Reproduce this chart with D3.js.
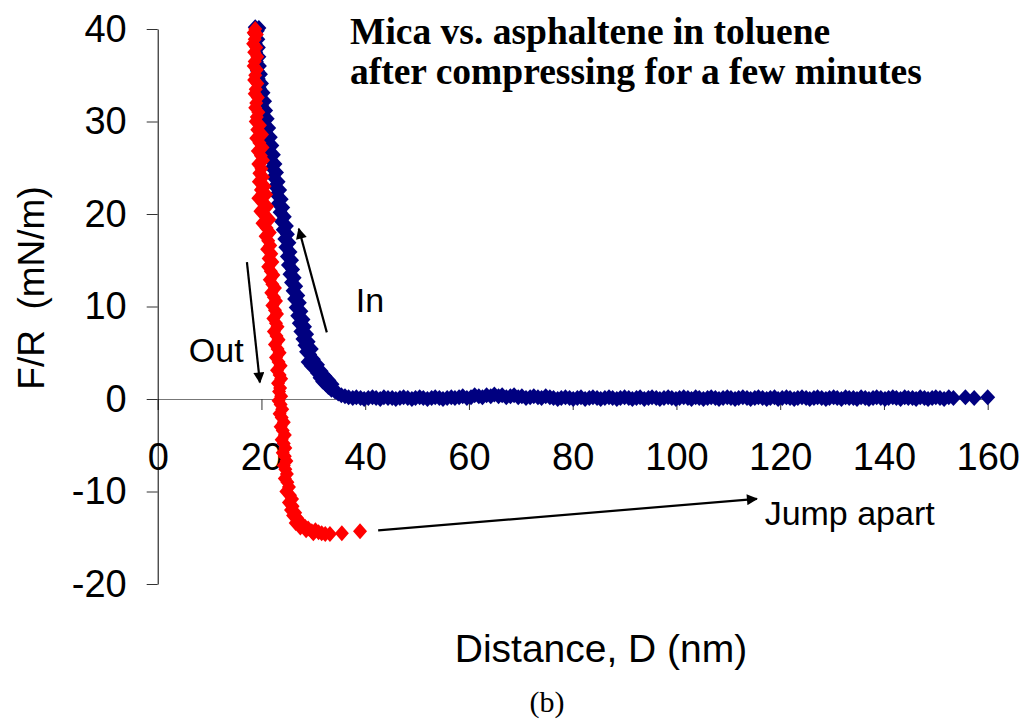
<!DOCTYPE html>
<html>
<head>
<meta charset="utf-8">
<script src="https://cdn.jsdelivr.net/npm/d3@7"></script>
<style>
  body { margin: 0; background: #fff; }
  svg { display: block; }
</style>
</head>
<body>
<div id="chart"></div>
<script>
// DATA, pairs of [distance D (nm), force F/R (mN/m)]
// approach ("In") run, blue - flat far part
let inFlat = [
  [160.0, 0.2], [157.4, 0.1], [155.7, 0.2], [153.4, 0.1], [152.5, 0.2], [151.6, 0.0], [150.8, 0.1], [150.0, 0.2], [149.3, 0.1], [148.5, 0.0],
  [147.8, 0.1], [147.0, 0.2], [146.2, 0.0], [145.5, 0.1], [144.7, 0.1], [144.0, 0.2], [143.2, 0.0], [142.4, 0.1], [141.7, 0.2], [140.9, 0.1],
  [140.2, 0.0], [139.4, 0.1], [138.6, 0.2], [137.9, 0.1], [137.1, 0.0], [136.4, 0.1], [135.6, 0.2], [134.8, 0.0], [134.1, 0.1], [133.3, 0.1],
  [132.6, 0.2], [131.8, 0.0], [131.0, 0.1], [130.3, 0.2], [129.5, 0.1], [128.8, 0.0], [128.0, 0.1], [127.2, 0.2], [126.5, 0.1], [125.7, 0.0],
  [125.0, 0.1], [124.2, 0.2], [123.4, 0.1], [122.7, 0.0], [121.9, 0.1], [121.2, 0.2], [120.4, 0.1], [119.6, 0.0], [118.9, 0.2], [118.1, 0.1],
  [117.4, 0.0], [116.6, 0.1], [115.8, 0.2], [115.1, 0.1], [114.3, 0.0], [113.6, 0.1], [112.8, 0.2], [112.0, 0.1], [111.3, 0.0], [110.5, 0.1],
  [109.8, 0.2], [109.0, 0.1], [108.2, 0.0], [107.5, 0.1], [106.7, 0.2], [106.0, 0.1], [105.2, 0.0], [104.4, 0.1], [103.7, 0.2], [102.9, 0.0],
  [102.2, 0.1], [101.4, 0.2], [100.6, 0.1], [99.9, 0.0], [99.1, 0.1], [98.4, 0.2], [97.6, 0.1], [96.8, 0.0], [96.1, 0.1], [95.3, 0.2],
  [94.6, 0.1], [93.8, 0.0], [93.0, 0.2], [92.3, 0.1], [91.5, 0.0], [90.8, 0.1], [90.0, 0.2], [89.2, 0.1], [88.5, 0.0], [87.7, 0.1],
  [87.0, 0.2], [86.2, 0.1], [85.4, 0.0], [84.7, 0.1], [83.9, 0.2], [83.2, 0.1], [82.4, 0.0], [81.6, 0.2], [80.9, 0.1], [80.1, 0.0],
  [79.4, 0.1], [78.6, 0.2], [77.8, 0.1], [77.1, 0.0], [76.3, 0.1], [75.6, 0.2], [74.8, 0.3], [74.0, 0.1], [73.3, 0.2], [72.5, 0.3],
  [71.8, 0.2], [71.0, 0.1], [70.2, 0.3], [69.5, 0.2], [68.7, 0.4], [68.0, 0.3], [67.2, 0.2], [66.4, 0.4], [65.7, 0.3], [64.9, 0.5],
  [64.2, 0.3], [63.4, 0.4], [62.6, 0.2], [61.9, 0.3], [61.1, 0.4], [60.4, 0.2], [59.6, 0.1], [58.8, 0.3], [58.1, 0.2], [57.3, 0.1],
  [56.6, 0.2], [55.8, 0.1], [55.0, 0.0], [54.3, 0.1], [53.5, 0.2], [52.8, 0.1], [52.0, 0.0], [51.2, 0.1], [50.5, 0.2], [49.7, 0.1],
  [49.0, 0.0], [48.2, 0.1], [47.4, 0.2], [46.7, 0.1], [45.9, 0.0], [45.2, 0.1], [44.4, 0.1], [43.6, 0.2], [42.9, 0.0], [42.1, 0.1],
  [41.4, 0.2], [40.6, 0.1], [39.8, 0.0], [39.1, 0.1], [38.3, 0.2], [37.6, 0.1], [36.8, 0.2], [36.1, 0.3], [35.4, 0.4], [34.8, 0.6]
]
// approach ("In") run, blue - rising near part
let inRise = [
  [34.2, 0.8], [33.5, 1.0], [32.9, 1.3], [33.6, 1.6], [32.4, 1.6], [31.8, 1.9], [33.0, 2.0], [31.3, 2.3], [32.2, 2.5], [30.8, 2.8],
  [31.5, 3.0], [30.3, 3.3], [29.6, 3.6], [30.8, 3.7], [29.0, 4.0], [30.0, 4.3], [29.3, 4.8], [28.7, 5.1], [29.6, 5.4], [28.4, 5.8],
  [29.0, 6.2], [28.0, 6.5], [28.7, 7.0], [27.6, 7.3], [28.3, 7.8], [27.3, 8.2], [28.0, 8.6], [27.0, 9.0], [27.6, 9.5], [26.7, 9.9],
  [27.3, 10.4], [26.4, 10.8], [27.0, 11.2], [26.1, 11.7], [26.6, 12.2], [25.8, 12.6], [26.3, 13.1], [25.5, 13.5], [26.0, 14.0], [25.2, 14.5],
  [25.8, 15.0], [25.0, 15.4], [25.5, 15.9], [24.7, 16.4], [25.3, 16.9], [24.5, 17.3], [25.0, 17.8], [24.2, 18.3], [24.8, 18.7], [23.9, 19.2],
  [24.4, 19.7], [23.6, 20.2], [24.1, 20.7], [23.2, 21.1], [23.8, 21.6], [22.9, 22.1], [23.5, 22.6], [22.6, 23.0], [23.2, 23.5], [22.3, 24.0],
  [22.9, 24.5], [22.0, 25.0], [22.6, 25.4], [21.7, 25.9], [22.3, 26.4], [21.4, 26.9], [22.0, 27.4], [21.1, 27.8], [21.7, 28.3], [20.8, 28.8],
  [21.4, 29.3], [20.5, 29.8], [21.1, 30.3], [20.3, 30.7], [20.8, 31.2], [20.0, 31.7], [20.6, 32.2], [19.8, 32.6], [20.3, 33.1], [19.6, 33.6],
  [20.0, 34.1], [19.4, 34.6], [19.8, 35.1], [19.2, 35.5], [19.6, 36.0], [19.0, 36.5], [19.5, 37.0], [18.9, 37.5], [19.4, 38.0], [18.8, 38.4],
  [19.3, 38.9], [18.9, 39.4], [19.2, 39.8], [19.5, 40.1], [18.8, 40.2]
]
// separation ("Out") run, red
let outPts = [
  [18.8, 40.0], [18.5, 39.6], [19.1, 39.4], [18.7, 38.9], [18.4, 38.4], [19.0, 38.0], [18.6, 37.5], [19.2, 37.0], [18.7, 36.5], [18.5, 36.0],
  [19.1, 35.6], [18.8, 35.0], [18.6, 34.5], [19.2, 34.1], [18.9, 33.5], [18.7, 33.0], [19.3, 32.6], [19.0, 32.0], [18.8, 31.5], [19.4, 31.0],
  [19.1, 30.5], [18.9, 30.0], [19.7, 29.6], [19.2, 29.1], [20.1, 28.6], [19.0, 28.2], [19.6, 27.7], [20.2, 27.2], [19.3, 26.8], [19.9, 26.3],
  [20.3, 25.8], [19.4, 25.4], [20.0, 24.9], [19.6, 24.4], [20.3, 24.0], [19.5, 23.5], [20.6, 23.0], [19.9, 22.6], [20.9, 22.1], [19.4, 21.7],
  [20.4, 21.2], [21.1, 20.8], [19.8, 20.3], [20.7, 19.8], [21.5, 19.4], [20.2, 19.0], [21.0, 18.5], [21.6, 18.0], [20.8, 17.6], [21.3, 17.1],
  [21.7, 16.6], [21.1, 16.2], [21.9, 15.7], [21.4, 15.2], [22.1, 14.8], [21.3, 14.3], [21.8, 13.8], [22.3, 13.4], [21.6, 12.9], [22.1, 12.4],
  [22.6, 12.0], [21.9, 11.5], [22.4, 11.0], [22.8, 10.6], [22.1, 10.1], [22.6, 9.6], [23.0, 9.2], [22.3, 8.7], [22.8, 8.2], [23.1, 7.8],
  [22.4, 7.3], [22.9, 6.8], [23.3, 6.4], [22.6, 5.9], [23.1, 5.4], [23.5, 5.0], [22.8, 4.5], [23.3, 4.0], [23.7, 3.6], [23.0, 3.1],
  [23.5, 2.6], [23.8, 2.2], [23.2, 1.7], [23.6, 1.2], [23.4, 0.8], [23.8, 0.3], [23.3, -0.2], [23.7, -0.6], [24.0, -1.1], [23.5, -1.6],
  [23.9, -2.0], [24.3, -2.5], [23.7, -3.0], [24.1, -3.4], [24.5, -3.9], [23.9, -4.4], [24.3, -4.8], [24.6, -5.3], [24.1, -5.8], [24.5, -6.2],
  [24.8, -6.7], [24.3, -7.2], [24.6, -7.6], [24.9, -8.1], [24.5, -8.6], [25.0, -9.0], [25.3, -9.5], [24.8, -10.0], [25.5, -10.4], [25.9, -10.8],
  [25.3, -11.2], [26.0, -11.6], [25.7, -12.0], [26.5, -12.3], [26.1, -12.6], [26.9, -12.9], [27.3, -13.2], [26.6, -13.4], [27.8, -13.6], [28.4, -13.8],
  [27.5, -13.9], [29.0, -14.0], [28.6, -14.2], [29.7, -14.3], [30.4, -14.2], [31.0, -14.4], [30.0, -14.5], [31.6, -14.5], [32.3, -14.6], [33.2, -14.6],
  [35.5, -14.5], [39.0, -14.3]
]

let xTicks = [0, 20, 40, 60, 80, 100, 120, 140, 160]
let yTicks = [-20, -10, 0, 10, 20, 30, 40]

// annotation arrows and labels, in data units
let arrows = [
  { from: [32.6, 7.2], to: [27.2, 18.4] },
  { from: [17.2, 14.8], to: [19.7, 1.8] },
  { from: [42.5, -14.2], to: [115.5, -10.8] }
]
let notes = [
  { text: 'In', at: [38.2, 9.4] },
  { text: 'Out', at: [6.0, 4.0] },
  { text: 'Jump apart', at: [117.0, -13.6] }
]

// CHART SETUP
let width = 1028, height = 719
let sans = 'Liberation Sans, Arial, sans-serif'
let serif = 'Liberation Serif, Times New Roman, serif'

let svg = d3.select('#chart')
  .append('svg')
  .attr('width', width)
  .attr('height', height)

let x = d3.scaleLinear().domain([0, 160]).range([157.7, 987.7])
let y = d3.scaleLinear().domain([-20, 40]).range([584, 29])

// diamond marker, a bit taller than wide
function diamond(w, h) {
  return 'M0,' + (-h) + 'L' + w + ',0L0,' + h + 'L' + (-w) + ',0Z'
}

// AXES
let xAxis = svg.append('g')
  .attr('transform', 'translate(0,' + y(0) + ')')
  .call(d3.axisBottom(x).tickValues(xTicks).tickFormat(d => String(d))
    .tickSize(11).tickSizeOuter(0).tickPadding(33))
xAxis.select('.domain').attr('stroke', '#777')
xAxis.selectAll('.tick line').attr('stroke', '#333')
xAxis.selectAll('text').attr('font-family', sans).attr('font-size', 38).attr('fill', '#000')

let yAxis = svg.append('g')
  .attr('transform', 'translate(' + x(0) + ',0)')
  .call(d3.axisLeft(y).tickValues(yTicks).tickFormat(d => String(d))
    .tickSize(11).tickSizeOuter(0).tickPadding(20))
yAxis.select('.domain').attr('stroke', '#000')
yAxis.selectAll('.tick line').attr('stroke', '#333')
yAxis.selectAll('text').attr('font-family', sans).attr('font-size', 38).attr('fill', '#000')

// POINTS
svg.append('g').selectAll('path')
  .data(inFlat.concat(inRise))
  .enter().append('path')
  .attr('d', diamond(7.5, 8))
  .attr('transform', d => 'translate(' + x(d[0]) + ',' + y(d[1]) + ')')
  .attr('fill', '#000080')

svg.append('g').selectAll('path')
  .data(outPts)
  .enter().append('path')
  .attr('d', diamond(7, 8))
  .attr('transform', d => 'translate(' + x(d[0]) + ',' + y(d[1]) + ')')
  .attr('fill', '#ff0000')

// ANNOTATIONS
svg.append('defs').append('marker')
  .attr('id', 'head')
  .attr('viewBox', '0 0 10 10')
  .attr('refX', 9).attr('refY', 5)
  .attr('markerWidth', 6).attr('markerHeight', 5)
  .attr('orient', 'auto')
  .append('path')
  .attr('d', 'M0,0L10,5L0,10Z')
  .attr('fill', '#000')

svg.append('g').selectAll('line')
  .data(arrows)
  .enter().append('line')
  .attr('x1', d => x(d.from[0])).attr('y1', d => y(d.from[1]))
  .attr('x2', d => x(d.to[0])).attr('y2', d => y(d.to[1]))
  .attr('stroke', '#000')
  .attr('stroke-width', 2.2)
  .attr('marker-end', 'url(#head)')

svg.append('g').selectAll('text')
  .data(notes)
  .enter().append('text')
  .attr('x', d => x(d.at[0]))
  .attr('y', d => y(d.at[1]))
  .attr('font-family', sans)
  .attr('font-size', 34)
  .text(d => d.text)

// TITLES
let title = svg.append('text')
  .attr('font-family', serif)
  .attr('font-weight', 700)
  .attr('font-size', 37.5)
title.append('tspan').attr('x', 350).attr('y', 44).text('Mica vs. asphaltene in toluene')
title.append('tspan').attr('x', 350).attr('y', 84).text('after compressing for a few minutes')

svg.append('text')
  .attr('transform', 'translate(44,288) rotate(-90)')
  .attr('text-anchor', 'middle')
  .attr('font-family', sans)
  .attr('font-size', 37)
  .style('white-space', 'pre')
  .text('F/R  (mN/m)')

svg.append('text')
  .attr('x', 601).attr('y', 662)
  .attr('text-anchor', 'middle')
  .attr('font-family', sans)
  .attr('font-size', 39)
  .text('Distance, D (nm)')

svg.append('text')
  .attr('x', 547).attr('y', 712)
  .attr('text-anchor', 'middle')
  .attr('font-family', serif)
  .attr('font-size', 30)
  .text('(b)')
</script>
</body>
</html>
